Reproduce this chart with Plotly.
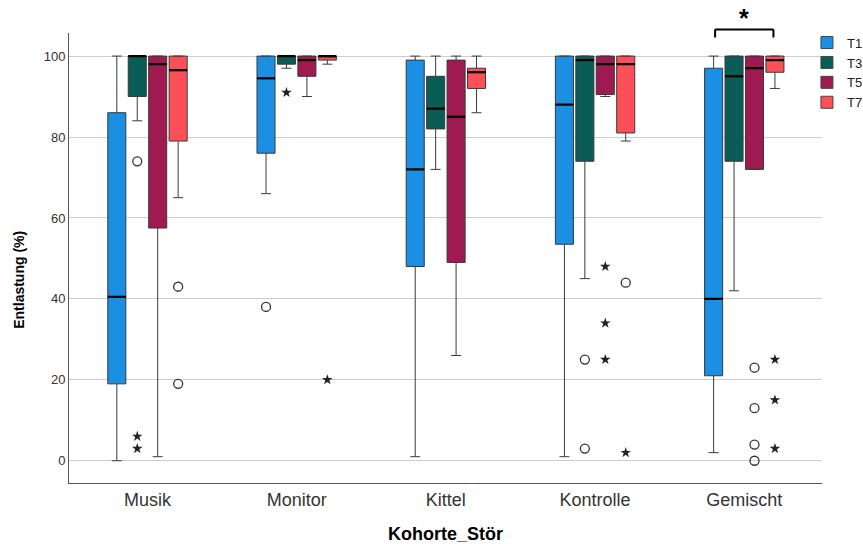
import plotly.graph_objects as go

categories = ["Musik", "Monitor", "Kittel", "Kontrolle", "Gemischt"]
series = ["T1", "T3", "T5", "T7"]
colors = {"T1": "#1A8FE3", "T3": "#0A5C56", "T5": "#9E1A50", "T7": "#FD4F58"}

# box statistics per series (order of categories)
T1_low = [0, 66, 1, 1, 2]
T1_q1 = [19, 76, 48, 53.5, 21]
T1_med = [40.5, 94.5, 72, 88, 40]
T1_q3 = [86, 100, 99, 100, 97]
T1_high = [100, 100, 100, 100, 100]

T3_low = [84, 97, 72, 45, 42]
T3_q1 = [90, 98, 82, 74, 74]
T3_med = [100, 100, 87, 99, 95]
T3_q3 = [100, 100, 95, 100, 100]
T3_high = [100, 100, 100, 100, 100]

T5_low = [1, 90, 26, 90, 72]
T5_q1 = [57.5, 95, 49, 90.5, 72]
T5_med = [98, 99, 85, 98, 97]
T5_q3 = [100, 100, 99, 100, 100]
T5_high = [100, 100, 100, 100, 100]

T7_low = [65, 98, 86, 79, 92]
T7_q1 = [79, 99, 92, 81, 96]
T7_med = [96.5, 100, 96, 98, 99]
T7_q3 = [100, 100, 97, 100, 100]
T7_high = [100, 100, 100, 100, 100]

# outliers (circles) and extreme values (stars)
mild_series = ["T1", "T3", "T3", "T3", "T5", "T5", "T5", "T5", "T7", "T7", "T7"]
mild_cat = ["Monitor", "Musik", "Kontrolle", "Kontrolle", "Gemischt", "Gemischt", "Gemischt", "Gemischt",
            "Musik", "Musik", "Kontrolle"]
mild_val = [38, 74, 25, 3, 23, 13, 4, 0, 43, 19, 44]

ext_series = ["T3", "T3", "T3", "T5", "T5", "T5", "T7", "T7", "T7", "T7", "T7"]
ext_cat = ["Musik", "Musik", "Monitor", "Kontrolle", "Kontrolle", "Kontrolle", "Monitor", "Kontrolle",
           "Gemischt", "Gemischt", "Gemischt"]
ext_val = [6, 3, 91, 48, 34, 25, 20, 2, 25, 15, 3]

stats = {
    "T1": (T1_low, T1_q1, T1_med, T1_q3, T1_high),
    "T3": (T3_low, T3_q1, T3_med, T3_q3, T3_high),
    "T5": (T5_low, T5_q1, T5_med, T5_q3, T5_high),
    "T7": (T7_low, T7_q1, T7_med, T7_q3, T7_high),
}

slot = 0.137
box_w = 0.121
offsets = {s: (i - 1.5) * slot for i, s in enumerate(series)}
cat_idx = {c: i for i, c in enumerate(categories)}

fig = go.Figure()
for s in series:
    low, q1, med, q3, high = stats[s]
    xs = [i + offsets[s] for i in range(len(categories))]
    fig.add_trace(go.Box(
        x=xs, q1=q1, median=med, q3=q3, lowerfence=low, upperfence=high,
        width=box_w, whiskerwidth=0.55, boxpoints=False,
        fillcolor=colors[s], line=dict(color="#3a3a3a", width=1),
        showlegend=False, name=s, hoverinfo="skip"))
    # thick median lines
    mx, my = [], []
    for x, m in zip(xs, med):
        mx += [x - box_w / 2, x + box_w / 2, None]
        my += [m, m, None]
    fig.add_trace(go.Scatter(x=mx, y=my, mode="lines", line=dict(color="black", width=2.2),
                             showlegend=False, hoverinfo="skip"))

fig.add_trace(go.Scatter(
    x=[cat_idx[c] + offsets[s] for c, s in zip(mild_cat, mild_series)], y=mild_val,
    mode="markers", marker=dict(symbol="circle-open", size=9, color="#333", line=dict(width=1.3)),
    showlegend=False, hoverinfo="skip"))
fig.add_trace(go.Scatter(
    x=[cat_idx[c] + offsets[s] for c, s in zip(ext_cat, ext_series)], y=ext_val,
    mode="markers", marker=dict(symbol="star", size=8, color="#222"),
    showlegend=False, hoverinfo="skip"))

# legend entries
for s in series:
    fig.add_trace(go.Scatter(x=[None], y=[None], mode="markers", name=s,
                             marker=dict(symbol="square", size=12, color=colors[s],
                                         line=dict(color="#444", width=1))))

# significance bracket for Gemischt
gx = cat_idx["Gemischt"]
x0, x1 = gx + offsets["T1"] + 0.01, gx + offsets["T7"] - 0.01
for seg in [(x0, 0.990, x0, 1.008), (x0, 1.008, x1, 1.008), (x1, 1.008, x1, 0.990)]:
    fig.add_shape(type="line", xref="x", yref="paper", x0=seg[0], y0=seg[1], x1=seg[2], y1=seg[3],
                  line=dict(color="black", width=2))
fig.add_annotation(x=gx, xref="x", y=1.068, yref="paper", text="<b>*</b>", showarrow=False,
                   yanchor="top", font=dict(size=25, color="black", family="Liberation Sans"))

fig.add_annotation(x=-0.08, xref="paper", y=0.451, yref="paper", text="<b>Entlastung (%)</b>",
                   textangle=-90, showarrow=False, font=dict(size=14, color="black", family="Liberation Sans"))

fig.update_layout(
    width=863, height=544,
    margin=dict(l=69, r=41, t=33, b=61, autoexpand=False),
    plot_bgcolor="white", paper_bgcolor="white",
    font=dict(family="Liberation Sans", color="#333"),
    xaxis=dict(range=[-0.526, 4.521], tickvals=list(range(len(categories))), ticktext=categories,
               showline=True, linecolor="#555", linewidth=1, showgrid=False, zeroline=False, ticks="",
               tickfont=dict(size=18, color="#333"),
               title=dict(text="<b>Kohorte_Stör</b>", font=dict(size=18, color="black"), standoff=18)),
    yaxis=dict(range=[-5.5, 105.7], tickvals=[0, 20, 40, 60, 80, 100], showgrid=True, gridcolor="#cccccc",
               showline=True, linecolor="#555", linewidth=1, zeroline=False, ticks="",
               tickfont=dict(size=13, color="#333")),
    legend=dict(x=0.980, y=1.012, xanchor="left", yanchor="top", font=dict(size=13, color="#222"),
                bgcolor="rgba(0,0,0,0)", tracegroupgap=0),
)

fig.write_html("out.html")
